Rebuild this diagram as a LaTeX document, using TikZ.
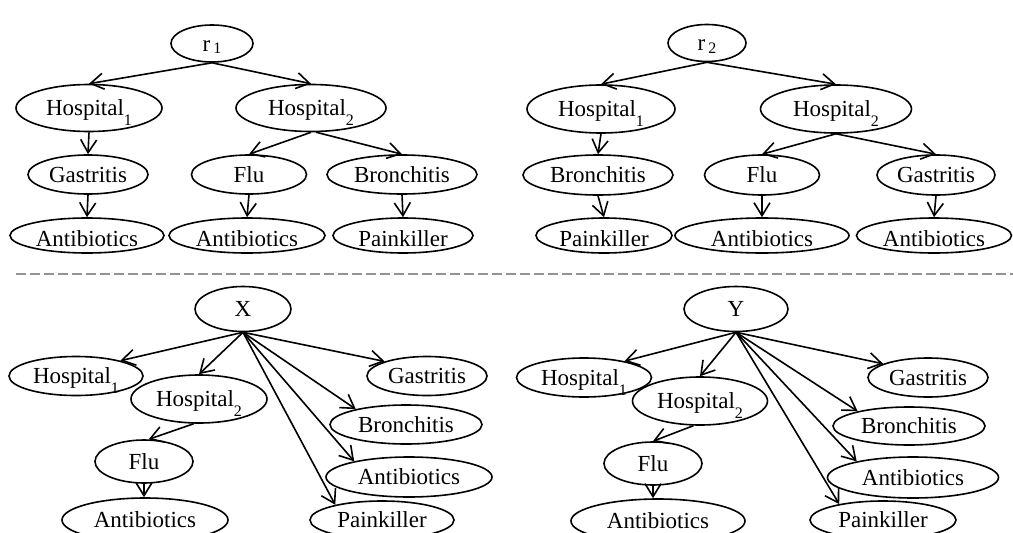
\documentclass[tikz,border=0pt]{standalone}
\usepackage{fontspec}
\setmainfont{Liberation Serif}
\usetikzlibrary{shapes.geometric,arrows.meta}
% lowered subscripts as used in the node labels
\newcommand{\hsub}[1]{\smash{\raisebox{-10pt}{\fontsize{16}{16}\selectfont #1}}}
\newcommand{\rsub}[1]{\hspace{3pt}\raisebox{-2.5pt}{\fontsize{16}{16}\selectfont #1}}
\begin{document}
\begin{tikzpicture}[x=1pt,y=-1pt,
  ell/.style={ellipse, draw, line width=1.6pt, inner sep=0pt,
    font=\fontsize{23}{25}\selectfont, text height=15.5pt, text depth=0pt},
  low/.style={text height=22pt},
  sz/.style 2 args={minimum width=#1pt, minimum height=#2pt},
  arr/.style={-{Straight Barb[length=13pt,width=16pt,line width=1.6pt]}, line width=1.6pt},
  sep/.style={draw=gray!85, line width=1.8pt, dash pattern=on 10pt off 4pt}]
\useasboundingbox (0,0) rectangle (1013,533);

% ---------- tree r1 ----------
\node[ell, sz={82}{37}] (a0) at (212,43.5) {r\rsub{1}};
\node[ell, sz={146}{47}] (a1) at (89,108) {Hospital\hsub{1}};
\node[ell, sz={150}{47}] (a2) at (311,108) {Hospital\hsub{2}};
\node[ell, sz={120}{39}] (a3) at (88,174.5) {Gastritis};
\node[ell, sz={115}{39}] (a4) at (249,174.5) {Flu};
\node[ell, sz={150}{39}] (a5) at (402,174.5) {Bronchitis};
\node[ell, low, sz={154}{35}] (a6) at (87,235.5) {Antibiotics};
\node[ell, low, sz={156}{35}] (a7) at (247,235.5) {Antibiotics};
\node[ell, low, sz={140}{35}] (a8) at (403,235.5) {Painkiller};
\draw[arr] (a0.south) -- (a1.north);
\draw[arr] (a0.south) -- (a2.north);
\draw[arr] (a1.south) -- (a3.north);
\draw[arr] (a2.south) -- (a4.north);
\draw[arr] (a2.-78) -- (a5.north);
\draw[arr] (a3.south) -- (a6.north);
\draw[arr] (a4.south) -- (a7.north);
\draw[arr] (a5.south) -- (a8.north);

% ---------- tree r2 ----------
\node[ell, sz={78}{37}] (b0) at (707,43) {r\rsub{2}};
\node[ell, sz={148}{48}] (b1) at (601,109) {Hospital\hsub{1}};
\node[ell, sz={151}{48}] (b2) at (836,109) {Hospital\hsub{2}};
\node[ell, sz={150}{40}] (b3) at (598,175) {Bronchitis};
\node[ell, sz={115}{40}] (b4) at (762,175) {Flu};
\node[ell, sz={118}{40}] (b5) at (936,175) {Gastritis};
\node[ell, low, sz={136}{35}] (b6) at (604,235.5) {Painkiller};
\node[ell, low, sz={174}{35}] (b7) at (762,235.5) {Antibiotics};
\node[ell, low, sz={155}{35}] (b8) at (934,235.5) {Antibiotics};
\draw[arr] (b0.south) -- (b1.north);
\draw[arr] (b0.south) -- (b2.north);
\draw[arr] (b1.south) -- (b3.north);
\draw[arr] (b2.south) -- (b4.north);
\draw[arr] (b2.south) -- (b5.north);
\draw[arr] (b3.south) -- (b6.north);
\draw[arr] (b4.south) -- (b7.north);
\draw[arr] (b5.south) -- (b8.north);

% ---------- separator ----------
\draw[sep] (16,274) -- (1013,274);

% ---------- graph X ----------
\node[ell, sz={96}{45}] (c0) at (243,309) {X};
\node[ell, sz={134}{39}] (c1) at (76,376) {Hospital\hsub{1}};
\node[ell, sz={136}{48}] (c2) at (199,399) {Hospital\hsub{2}};
\node[ell, sz={120}{39}] (c3) at (427,376) {Gastritis};
\node[ell, sz={152}{39}] (c4) at (406,424.5) {Bronchitis};
\node[ell, sz={98}{43}] (c5) at (144,461.5) {Flu};
\node[ell, sz={166}{40}] (c6) at (409,477) {Antibiotics};
\node[ell, sz={166}{44}] (c7) at (145,520) {Antibiotics};
\node[ell, sz={144}{38}] (c8) at (382,520) {Painkiller};
\draw[arr] (c0.south) -- (c1.19);
\draw[arr] (c0.south) -- (c2.north);
\draw[arr] (c0.south) -- (c3.161);
\draw[arr] (c0.south) -- (c4.163);
\draw[arr] (c0.south) -- (c6.164);
\draw[arr] (c0.south) -- (c8.162);
\draw[arr] (c2.258) -- (c5.78);
\draw[arr] (c5.south) -- (c5.south |- c7.north);

% ---------- graph Y ----------
\node[ell, sz={104}{45}] (d0) at (736,309) {Y};
\node[ell, sz={135}{39}] (d1) at (584,377.5) {Hospital\hsub{1}};
\node[ell, sz={135}{48}] (d2) at (700,401) {Hospital\hsub{2}};
\node[ell, sz={120}{39}] (d3) at (928,377.5) {Gastritis};
\node[ell, sz={152}{38}] (d4) at (909,426) {Bronchitis};
\node[ell, sz={98}{43}] (d5) at (653,463.5) {Flu};
\node[ell, sz={171}{41}] (d6) at (913,477.5) {Antibiotics};
\node[ell, sz={174}{44}] (d7) at (658,521) {Antibiotics};
\node[ell, sz={146}{38}] (d8) at (883,520) {Painkiller};
\draw[arr] (d0.south) -- (d1.22);
\draw[arr] (d0.south) -- (d2.north);
\draw[arr] (d0.south) -- (d3.163);
\draw[arr] (d0.south) -- (d4.164);
\draw[arr] (d0.south) -- (d6.164);
\draw[arr] (d0.south) -- (d8.160);
\draw[arr] (d2.255) -- (d5.north);
\draw[arr] (d5.south) -- (d5.south |- d7.north);
\end{tikzpicture}
\end{document}
